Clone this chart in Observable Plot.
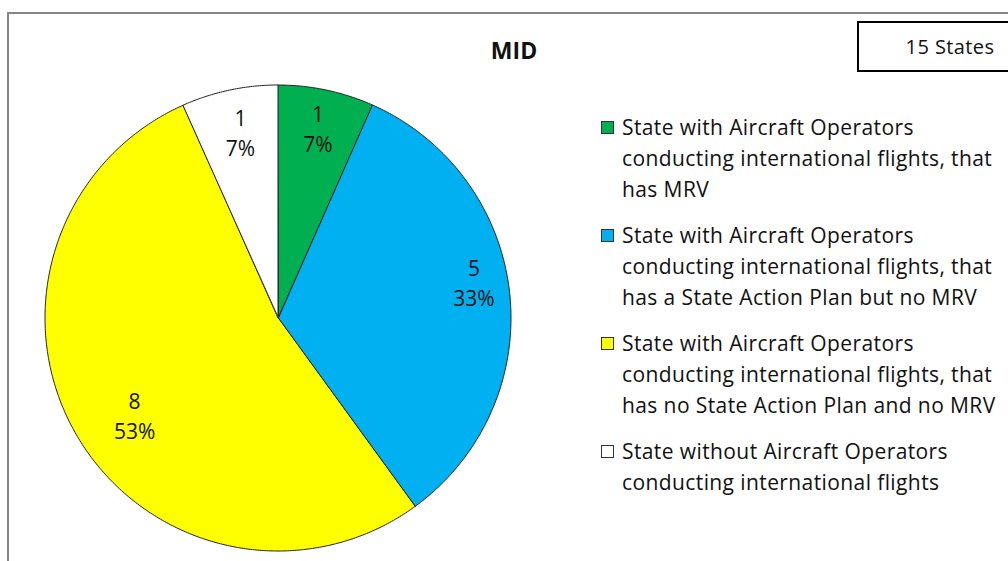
<!DOCTYPE html>
<html>
<head>
<meta charset="utf-8">
<script src="https://cdn.jsdelivr.net/npm/d3@7"></script>
<script src="https://cdn.jsdelivr.net/npm/@observablehq/plot@0.6"></script>
<style>
  html, body { margin: 0; padding: 0; background: #fff; }
  #wrap { position: relative; width: 1008px; height: 561px; overflow: hidden; font-family: "Open Sans", "Liberation Sans", sans-serif; color: #111; }
  #frame { position: absolute; left: 7px; top: 12px; width: 1100px; height: 700px; border: 2px solid #858585; box-sizing: border-box; }
  #chart { position: absolute; left: 0; top: 0; }
  #title { position: absolute; left: 414px; width: 200px; top: 34px; text-align: center; font-weight: bold; font-size: 23px; }
  #box { position: absolute; left: 857px; top: 21px; width: 186px; height: 51px; border: 2px solid #000; box-sizing: border-box; text-align: center; line-height: 47px; font-size: 20px; letter-spacing: 0.4px; background: #fff; }
  #legend { position: absolute; left: 601px; top: 112px; font-size: 21px; letter-spacing: 0.4px; }
  .item { position: relative; margin-bottom: 15px; }
  .sw { position: absolute; left: 0; top: 9px; width: 13px; height: 13px; border: 1px solid #333; box-sizing: border-box; }
  .txt { margin-left: 21px; line-height: 31px; white-space: pre; }
</style>
</head>
<body>
<div id="wrap">
  <div id="frame"></div>
  <div id="chart"></div>
  <div id="title"></div>
  <div id="box"></div>
  <div id="legend"></div>
</div>
<script>
const title = "MID";
const totalLabel = "15 States";
const categories = [
  "State with Aircraft Operators\nconducting international flights, that\nhas MRV",
  "State with Aircraft Operators\nconducting international flights, that\nhas a State Action Plan but no MRV",
  "State with Aircraft Operators\nconducting international flights, that\nhas no State Action Plan and no MRV",
  "State without Aircraft Operators\nconducting international flights"
];
const counts = [1, 5, 8, 1];
const percents = ["7%", "33%", "53%", "7%"];
const colors = ["#00B050", "#00B0F0", "#FFFF00", "#FFFFFF"];

const arcs = d3.pie().sort(null).value(d => d.count)(
  categories.map((cat, i) => ({cat, count: counts[i], pct: percents[i]}))
);

// Outline points of each wedge along its arc (angles from d3.pie)
const pts = [];
for (const a of arcs) {
  const n = Math.max(2, Math.ceil((a.endAngle - a.startAngle) / 0.01));
  for (let k = 0; k <= n; k++) {
    const t = a.startAngle + (a.endAngle - a.startAngle) * k / n;
    pts.push({cat: a.data.cat, x: Math.sin(t), y: Math.cos(t)});
  }
}
const labels = arcs.map(a => {
  const m = (a.startAngle + a.endAngle) / 2 - 0.06;
  return {x: 0.8 * Math.sin(m) + 0.05, y: 0.8 * Math.cos(m) + 0.03, text: a.data.count + "\n" + a.data.pct};
});

const plot = Plot.plot({
  width: 1008,
  height: 561,
  margin: 0,
  x: {domain: [-1, 1], range: [45, 511], axis: null},
  y: {domain: [-1, 1], range: [551, 85], axis: null},
  color: {domain: categories, range: colors},
  style: {background: "transparent", overflow: "visible"},
  marks: [
    Plot.area(pts, {x1: "x", y1: "y", x2: () => 0, y2: () => 0, z: "cat", fill: "cat", stroke: "#222", strokeWidth: 1, strokeLinejoin: "round"}),
    Plot.text(labels, {x: "x", y: "y", text: "text", fontSize: 21, lineHeight: 1.43, fill: "#111", fontFamily: "'Open Sans', 'Liberation Sans', sans-serif", letterSpacing: 0.5})
  ]
});
document.getElementById("chart").appendChild(plot);
document.getElementById("title").textContent = title;
document.getElementById("box").textContent = totalLabel;

const legend = document.getElementById("legend");
categories.forEach((c, i) => {
  const item = document.createElement("div");
  item.className = "item";
  const sw = document.createElement("div");
  sw.className = "sw";
  sw.style.background = colors[i];
  const txt = document.createElement("div");
  txt.className = "txt";
  txt.textContent = c;
  item.appendChild(sw);
  item.appendChild(txt);
  legend.appendChild(item);
});
</script>
</body>
</html>
